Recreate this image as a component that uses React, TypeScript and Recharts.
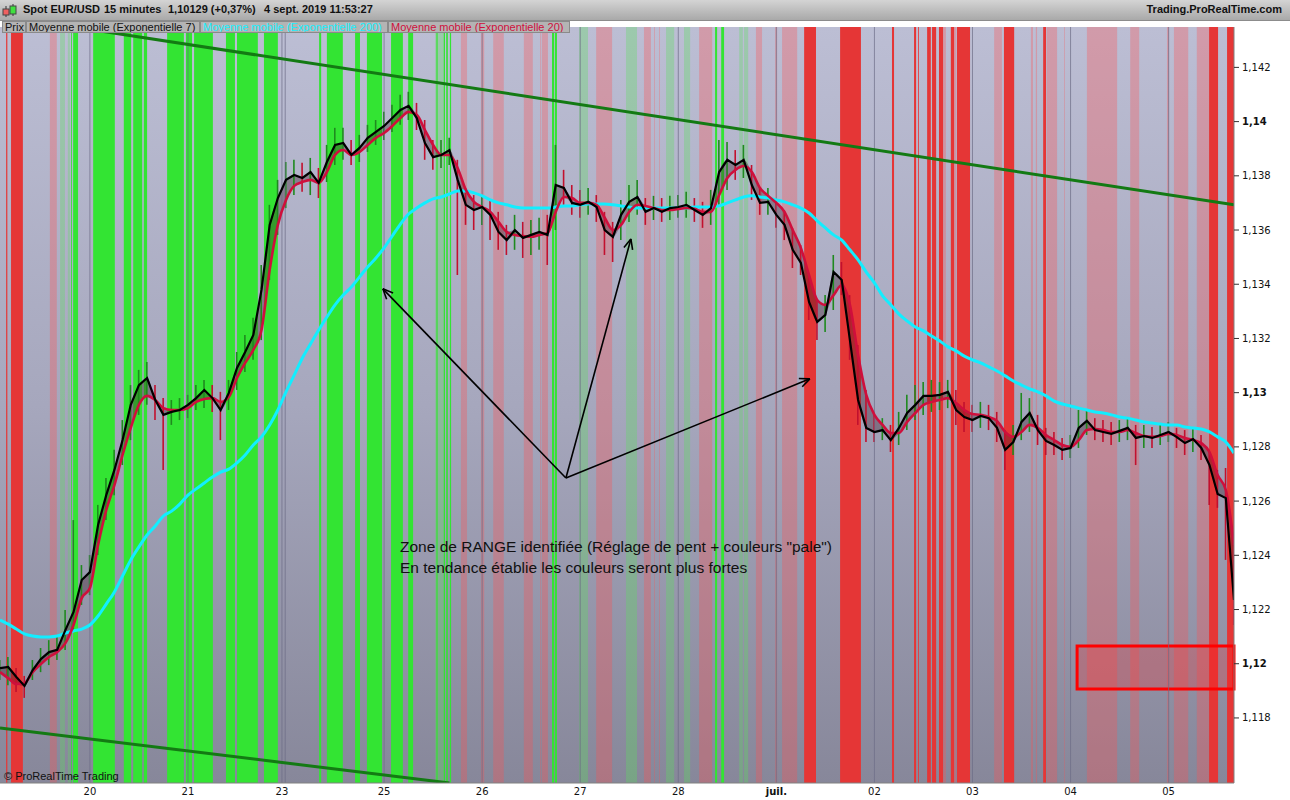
import React from 'react';
import { ComposedChart, Line, Bar, Area, Cell, XAxis, YAxis, ReferenceArea, ReferenceLine } from 'recharts';

// time axis: trading hours from the left edge of the chart (15-minute EUR/USD)
const hours = [0,2,4,6,8,10,12,14,16,18,20,22,24,26,28,30,32,34,36,38,40,42,44,46,48,50,52,54,56,58,60,62,64,66,68,70,72,74,76,78,80,82,84,86,88,90,92,94,96,98,100,102,104,106,108,110,112,114,116,118,120,122,124,126,128,130,132,134,136,138,140,142,144,146,148,150,152,154,156,158,160,162,164,166,168,170,172,174,176,178,180,182,184,186,188,190,192,194,196,198,200,202,204,206,208,210,212,214,216,218,220,222,224,226,228,230,232,234,236,238,240,242,244,246,248,250,252,254,256,258,260,262,264,266,268,270,272,274,276,278,280,282,284,286,288,290,292,294,296,298,300,302];

const ema7 = [1.11984,1.11988,1.11951,1.11918,1.11977,1.12017,1.12043,1.12051,1.12124,1.12191,1.12309,1.12338,1.12512,1.12622,1.12715,1.12825,1.12955,1.13028,1.13054,1.12973,1.12918,1.12929,1.12936,1.12955,1.12980,1.13010,1.12980,1.12936,1.12999,1.13091,1.13150,1.13213,1.13379,1.13619,1.13718,1.13785,1.13803,1.13792,1.13814,1.13774,1.13851,1.13914,1.13921,1.13877,1.13903,1.13940,1.13962,1.13984,1.14013,1.14043,1.14058,1.14013,1.13921,1.13869,1.13877,1.13895,1.13785,1.13693,1.13674,1.13685,1.13656,1.13593,1.13563,1.13600,1.13571,1.13582,1.13593,1.13582,1.13766,1.13755,1.13700,1.13693,1.13704,1.13685,1.13600,1.13575,1.13656,1.13704,1.13722,1.13667,1.13681,1.13667,1.13681,1.13685,1.13693,1.13674,1.13656,1.13681,1.13814,1.13859,1.13840,1.13859,1.13766,1.13700,1.13704,1.13656,1.13619,1.13527,1.13479,1.13335,1.13261,1.13287,1.13445,1.13416,1.13194,1.12973,1.12870,1.12855,1.12862,1.12825,1.12870,1.12925,1.12955,1.12988,1.12988,1.12992,1.13003,1.12936,1.12910,1.12899,1.12914,1.12906,1.12870,1.12789,1.12818,1.12892,1.12925,1.12862,1.12822,1.12807,1.12789,1.12796,1.12870,1.12896,1.12862,1.12855,1.12848,1.12859,1.12870,1.12833,1.12840,1.12833,1.12844,1.12855,1.12836,1.12814,1.12829,1.12796,1.12733,1.12626,1.12611,1.12235];

const ema20 = [1.11969,1.11947,1.11925,1.11929,1.11969,1.11999,1.12025,1.12043,1.12076,1.12143,1.12242,1.12279,1.12438,1.12567,1.12659,1.12770,1.12870,1.12955,1.12988,1.12973,1.12943,1.12936,1.12936,1.12943,1.12966,1.12977,1.12980,1.12966,1.12984,1.13054,1.13110,1.13158,1.13231,1.13453,1.13619,1.13711,1.13763,1.13777,1.13785,1.13774,1.13814,1.13877,1.13895,1.13877,1.13888,1.13914,1.13940,1.13958,1.13984,1.14013,1.14036,1.14025,1.13969,1.13914,1.13877,1.13877,1.13829,1.13748,1.13704,1.13685,1.13667,1.13630,1.13593,1.13582,1.13578,1.13575,1.13582,1.13589,1.13667,1.13722,1.13718,1.13700,1.13700,1.13693,1.13645,1.13600,1.13619,1.13667,1.13693,1.13689,1.13681,1.13674,1.13674,1.13678,1.13681,1.13678,1.13667,1.13667,1.13729,1.13792,1.13822,1.13836,1.13814,1.13755,1.13726,1.13700,1.13667,1.13600,1.13534,1.13434,1.13342,1.13324,1.13360,1.13397,1.13324,1.13139,1.12992,1.12918,1.12881,1.12851,1.12851,1.12892,1.12925,1.12955,1.12966,1.12973,1.12980,1.12962,1.12936,1.12921,1.12918,1.12910,1.12896,1.12855,1.12837,1.12855,1.12881,1.12870,1.12844,1.12825,1.12807,1.12800,1.12825,1.12862,1.12866,1.12862,1.12855,1.12855,1.12862,1.12851,1.12840,1.12837,1.12840,1.12848,1.12844,1.12833,1.12825,1.12814,1.12781,1.12696,1.12641,1.12438];

const ema200 = [1.12161,1.12146,1.12128,1.12110,1.12102,1.12099,1.12099,1.12102,1.12113,1.12121,1.12128,1.12143,1.12176,1.12220,1.12265,1.12324,1.12383,1.12431,1.12475,1.12508,1.12545,1.12563,1.12589,1.12622,1.12645,1.12667,1.12689,1.12707,1.12718,1.12741,1.12770,1.12807,1.12837,1.12881,1.12936,1.13003,1.13065,1.13128,1.13180,1.13231,1.13279,1.13324,1.13360,1.13390,1.13427,1.13464,1.13497,1.13534,1.13578,1.13622,1.13659,1.13681,1.13700,1.13715,1.13722,1.13733,1.13744,1.13744,1.13737,1.13726,1.13711,1.13700,1.13693,1.13685,1.13681,1.13681,1.13681,1.13681,1.13685,1.13689,1.13689,1.13693,1.13696,1.13696,1.13696,1.13693,1.13689,1.13685,1.13681,1.13681,1.13681,1.13681,1.13681,1.13681,1.13681,1.13685,1.13685,1.13685,1.13689,1.13700,1.13711,1.13722,1.13726,1.13722,1.13718,1.13711,1.13704,1.13693,1.13681,1.13663,1.13634,1.13608,1.13582,1.13563,1.13527,1.13490,1.13445,1.13405,1.13357,1.13324,1.13290,1.13265,1.13242,1.13228,1.13209,1.13191,1.13169,1.13154,1.13135,1.13121,1.13110,1.13095,1.13080,1.13062,1.13043,1.13028,1.13014,1.13003,1.12988,1.12969,1.12958,1.12951,1.12943,1.12936,1.12929,1.12925,1.12918,1.12910,1.12906,1.12899,1.12892,1.12888,1.12884,1.12881,1.12881,1.12873,1.12870,1.12866,1.12855,1.12837,1.12818,1.12777];

const highs = [1.12014,1.12025,1.11984,1.11955,1.12014,1.12058,1.12087,1.12106,1.12198,1.12530,1.12364,1.12401,1.12586,1.12685,1.12789,1.12899,1.13028,1.13084,1.13113,1.13028,1.12980,1.12973,1.12980,1.12992,1.13028,1.13047,1.13028,1.13003,1.13047,1.13150,1.13213,1.13276,1.13471,1.13693,1.13785,1.13851,1.13859,1.13848,1.13866,1.13829,1.13914,1.13977,1.13977,1.13932,1.13951,1.13988,1.14006,1.14036,1.14062,1.14099,1.14110,1.14069,1.14006,1.13932,1.13932,1.13940,1.13859,1.13755,1.13729,1.13729,1.13711,1.13667,1.13619,1.13656,1.13630,1.13637,1.13645,1.13656,1.13914,1.13822,1.13766,1.13748,1.13755,1.13729,1.13667,1.13630,1.13711,1.13766,1.13785,1.13718,1.13726,1.13718,1.13726,1.13729,1.13741,1.13718,1.13704,1.13748,1.13932,1.13925,1.13895,1.13914,1.13840,1.13755,1.13755,1.13711,1.13674,1.13608,1.13545,1.13434,1.13342,1.13360,1.13508,1.13482,1.13360,1.13176,1.13010,1.12918,1.12906,1.12881,1.12929,1.12992,1.13028,1.13039,1.13047,1.13039,1.13047,1.13010,1.12966,1.12955,1.12966,1.12955,1.12929,1.12862,1.12881,1.12999,1.12980,1.12918,1.12870,1.12855,1.12833,1.12844,1.12936,1.12936,1.12906,1.12899,1.12892,1.12899,1.12906,1.12881,1.12881,1.12873,1.12881,1.12892,1.12870,1.12862,1.12870,1.12844,1.12789,1.12715,1.12722,1.12456];

const lows = [1.11940,1.11921,1.11896,1.11874,1.11940,1.11969,1.11995,1.12014,1.12051,1.12117,1.12217,1.12253,1.12401,1.12530,1.12622,1.12733,1.12825,1.12918,1.12955,1.12899,1.12715,1.12881,1.12899,1.12906,1.12936,1.12943,1.12929,1.12825,1.12936,1.13010,1.13076,1.13121,1.13194,1.13416,1.13582,1.13681,1.13729,1.13741,1.13729,1.13718,1.13777,1.13840,1.13859,1.13840,1.13851,1.13888,1.13914,1.13932,1.13962,1.13988,1.14006,1.13969,1.13859,1.13822,1.13829,1.13840,1.13434,1.13619,1.13600,1.13619,1.13563,1.13527,1.13508,1.13527,1.13497,1.13508,1.13527,1.13471,1.13600,1.13693,1.13656,1.13645,1.13656,1.13630,1.13508,1.13482,1.13563,1.13630,1.13656,1.13619,1.13637,1.13630,1.13637,1.13645,1.13645,1.13630,1.13608,1.13619,1.13693,1.13748,1.13785,1.13792,1.13711,1.13656,1.13656,1.13608,1.13563,1.13460,1.13434,1.13268,1.13194,1.13224,1.13305,1.13360,1.13121,1.12881,1.12818,1.12818,1.12825,1.12781,1.12807,1.12862,1.12899,1.12918,1.12929,1.12936,1.12943,1.12881,1.12855,1.12855,1.12870,1.12862,1.12818,1.12715,1.12770,1.12825,1.12855,1.12807,1.12770,1.12770,1.12752,1.12759,1.12796,1.12844,1.12825,1.12818,1.12807,1.12818,1.12825,1.12733,1.12796,1.12796,1.12807,1.12818,1.12796,1.12770,1.12781,1.12752,1.12586,1.12575,1.12383,1.12143];

const dayTicks = [22, 46, 69, 94, 118, 142, 166, 190, 214, 238, 262, 286];
const dayLabels = ['20', '21', '23', '25', '26', '27', '28', 'juil.', '02', '03', '04', '05'];
const daySeparators = [22, 46, 69, 69.8, 94, 118, 142, 166, 190, 214, 238, 262, 286];
const priceTicks = [1.118, 1.12, 1.122, 1.124, 1.126, 1.128, 1.13, 1.132, 1.134, 1.136, 1.138, 1.14, 1.142];
const boldPrices = [1.12, 1.13, 1.14];

// regime bands: [start hour, end hour, kind]  R = strong bear, PR = range bear, G = strong bull, PG = range bull
type Kind = 'R' | 'PR' | 'G' | 'PG';
const bands: [number, number, Kind][] = [
  [1.5,1.8,'R'],[2.7,5.6,'R'],[12.2,13.9,'PR'],[14.7,15.9,'PG'],[16.6,17.1,'PG'],[17.4,17.6,'G'],[17.9,19.1,'G'],
  [22.8,28.1,'G'],[30.3,32.1,'G'],[32.6,34.8,'G'],[35.2,36.0,'G'],[40.9,45.0,'G'],[45.5,47.0,'G'],[47.5,52.1,'G'],
  [55.3,57.5,'G'],[58.0,63.1,'G'],[64.6,68.0,'G'],[78.1,78.6,'G'],[80.0,83.9,'G'],[86.9,88.1,'G'],[89.8,93.5,'G'],
  [95.7,98.6,'G'],[99.9,101.1,'G'],[106.5,108.9,'PG'],[106.8,107.1,'G'],[108.6,108.9,'G'],[109.2,109.6,'G'],[110.1,110.4,'G'],
  [112.8,114.3,'PR'],[117.7,118.5,'PR'],[120.7,123.3,'PR'],[128.2,130.4,'PR'],[132.2,132.4,'PR'],[132.6,134.1,'PR'],
  [135.1,135.6,'G'],[135.8,136.3,'G'],[141.7,143.9,'PG'],[145.9,149.8,'PR'],[153.2,155.9,'PG'],[157.6,159.3,'PR'],
  [160.1,160.3,'PR'],[161.3,161.5,'PR'],[163.0,165.0,'PG'],[167.4,168.9,'PG'],[171.1,174.3,'PR'],[175.0,175.5,'G'],
  [176.5,177.2,'G'],[180.9,181.8,'PG'],[182.1,183.1,'PG'],[185.0,186.5,'PR'],[189.7,190.2,'PR'],[191.4,195.1,'PR'],
  [196.8,199.7,'R'],[205.6,210.7,'R'],[218.3,218.8,'R'],[223.7,224.2,'R'],[224.7,224.9,'R'],[226.9,227.8,'R'],
  [228.1,229.1,'R'],[229.8,230.8,'R'],[230.8,231.5,'PR'],[232.7,233.5,'R'],[233.5,234.0,'PR'],[234.2,237.4,'R'],
  [243.3,245.2,'PR'],[245.7,248.2,'R'],[252.3,252.8,'PR'],[253.5,253.8,'PR'],[255.3,256.0,'R'],[256.2,258.7,'PR'],
  [260.4,260.6,'PR'],[266.0,273.4,'PR'],[276.6,278.8,'PR'],[285.6,286.1,'PR'],[287.3,290.8,'PR'],[292.9,295.9,'PR'],
  [295.9,298.1,'R'],[300.3,302,'R'],
];

const upperTrend = [{ t: 0, p: 1.14391 }, { t: 302, p: 1.13693 }];
const lowerTrend = [{ t: 0, p: 1.11763 }, { t: 110, p: 1.1156 }];
const arrowOrigin = { t: 138.5, p: 1.12685 };
const arrowTargets = [{ t: 93.7, p: 1.13383 }, { t: 154.4, p: 1.13567 }, { t: 198.2, p: 1.13051 }];
const targetBox = { t1: 263.6, t2: 302, p1: 1.11907, p2: 1.12065 };

const X_DOMAIN: [number, number] = [0, 302];
const Y_DOMAIN: [number, number] = [1.1156, 1.14349];

const bandStyle: Record<Kind, { fill: string; opacity: number }> = {
  R: { fill: '#e53636', opacity: 1 },
  PR: { fill: 'rgb(255,80,80)', opacity: 0.32 },
  G: { fill: '#33e433', opacity: 1 },
  PG: { fill: 'rgb(90,225,90)', opacity: 0.32 },
};

const rows = hours.map((t, i) => ({
  t,
  ema7: ema7[i],
  ema20: ema20[i],
  ema200: ema200[i],
  cloud: [Math.min(ema7[i], ema20[i]), Math.max(ema7[i], ema20[i])],
  wick: [lows[i], highs[i]],
  up: i === 0 ? true : ema7[i] >= ema7[i - 1],
}));

const PriceTick = (props: any) => {
  const { x, y, payload } = props;
  const v = payload.value as number;
  const bold = boldPrices.some((b) => Math.abs(b - v) < 1e-9);
  const label = (bold ? v.toFixed(2) : v.toFixed(3)).replace('.', ',');
  return (
    <text x={x} y={y} dy={3.5} textAnchor="start" fontFamily="DejaVu Sans" fontSize={10}
      fontWeight={bold ? 700 : 400} fill="#111">{label}</text>
  );
};

const DayTick = (props: any) => {
  const { x, payload, index } = props;
  const i = dayTicks.indexOf(payload.value);
  const label = dayLabels[i >= 0 ? i : index];
  return (
    <text x={x} y={794.5} textAnchor="middle" fontFamily="DejaVu Sans" fontSize={10}
      fontWeight={label === 'juil.' ? 700 : 400} fill="#111">{label}</text>
  );
};

const ArrowShape = (props: any) => {
  const { x1, y1, x2, y2 } = props;
  const ang = Math.atan2(y2 - y1, x2 - x1);
  const L = 11;
  const a1 = ang + Math.PI - 0.42;
  const a2 = ang + Math.PI + 0.42;
  return (
    <g>
      <line x1={x1} y1={y1} x2={x2} y2={y2} stroke="#000" strokeWidth={1.6} />
      <line x1={x2} y1={y2} x2={x2 + L * Math.cos(a1)} y2={y2 + L * Math.sin(a1)} stroke="#000" strokeWidth={1.6} />
      <line x1={x2} y1={y2} x2={x2 + L * Math.cos(a2)} y2={y2 + L * Math.sin(a2)} stroke="#000" strokeWidth={1.6} />
    </g>
  );
};

const legendBox: React.CSSProperties = {
  position: 'absolute', top: 21, height: 12, background: '#b4b4b4', border: '1px solid #8a8a8a',
  fontFamily: 'Liberation Sans, Arial, sans-serif', fontSize: 11, lineHeight: '11px', paddingLeft: 2,
  boxSizing: 'border-box', whiteSpace: 'nowrap', overflow: 'hidden',
};

export default function App() {
  return (
    <div style={{ position: 'fixed', left: 0, top: 0, width: 1290, height: 800, background: '#fff', overflow: 'hidden' }}>
      {/* plot background gradient */}
      <div style={{ position: 'absolute', left: 0, top: 27, width: 1234, height: 756,
        background: 'linear-gradient(to bottom, #bcbed4 0%, #a6a7bd 50%, #87879a 100%)' }} />
      <div style={{ position: 'absolute', left: 0, top: 0 }}>
        <ComposedChart width={1290} height={800} data={rows} margin={{ top: 27, right: 0, bottom: 0, left: 0 }}>
          <XAxis dataKey="t" type="number" domain={X_DOMAIN} ticks={dayTicks} allowDataOverflow
            height={17} tickLine={false} axisLine={{ stroke: '#808080' }} tick={<DayTick />} interval={0} />
          <YAxis orientation="right" type="number" domain={Y_DOMAIN} ticks={priceTicks} allowDataOverflow
            width={56} tickSize={5} tickMargin={3} tickLine={{ stroke: '#333' }} axisLine={{ stroke: '#808080' }}
            tick={<PriceTick />} interval={0} />
          {bands.map(([a, b, k], i) => (
            <ReferenceArea key={'b' + i} x1={a} x2={b} fill={bandStyle[k].fill} fillOpacity={bandStyle[k].opacity}
              stroke="none" ifOverflow="hidden" />
          ))}
          {daySeparators.map((d) => (
            <ReferenceLine key={'d' + d} x={d} stroke="#6c6c86" strokeOpacity={0.7} strokeWidth={1} />
          ))}
          <Area dataKey="cloud" type="monotone" fill="#3a1420" fillOpacity={0.35} stroke="none" isAnimationActive={false} />
          <Bar dataKey="wick" barSize={1.6} isAnimationActive={false}>
            {rows.map((r, i) => (
              <Cell key={i} fill={r.up ? '#1f8a1f' : '#c2102e'} />
            ))}
          </Bar>
          <Line dataKey="ema200" type="monotone" stroke="#12eeff" strokeWidth={3} dot={false} isAnimationActive={false} />
          <Line dataKey="ema20" type="monotone" stroke="#cf0f3c" strokeWidth={2.6} dot={false} isAnimationActive={false} />
          <Line dataKey="ema7" type="linear" stroke="#000" strokeWidth={2.2} dot={false} isAnimationActive={false} />
          <ReferenceLine segment={[{ x: upperTrend[0].t, y: upperTrend[0].p }, { x: upperTrend[1].t, y: upperTrend[1].p }]}
            stroke="#137a13" strokeWidth={3} ifOverflow="hidden" />
          <ReferenceLine segment={[{ x: lowerTrend[0].t, y: lowerTrend[0].p }, { x: lowerTrend[1].t, y: lowerTrend[1].p }]}
            stroke="#137a13" strokeWidth={3} ifOverflow="hidden" />
          {arrowTargets.map((a, i) => (
            <ReferenceLine key={'a' + i} segment={[{ x: arrowOrigin.t, y: arrowOrigin.p }, { x: a.t, y: a.p }]}
              ifOverflow="visible" shape={<ArrowShape />} />
          ))}
          <ReferenceArea x1={targetBox.t1} x2={targetBox.t2} y1={targetBox.p1} y2={targetBox.p2}
            fill="#ff2020" fillOpacity={0.25} stroke="#ff0000" strokeWidth={3} ifOverflow="visible" />
        </ComposedChart>
      </div>

      {/* header bar */}
      <div style={{ position: 'absolute', left: 0, top: 0, width: 1290, height: 21,
        background: 'linear-gradient(to bottom, #d4d4d4, #a9a9a9)', borderBottom: '1px solid #8c8c8c', boxSizing: 'border-box' }} />
      <svg style={{ position: 'absolute', left: 2, top: 4 }} width={16} height={14}>
        <line x1={4} y1={2} x2={4} y2={13} stroke="#333" />
        <rect x={1} y={5} width={6} height={6} fill="#f06060" stroke="#444" />
        <line x1={11} y1={0} x2={11} y2={12} stroke="#333" />
        <rect x={8} y={2} width={6} height={8} fill="#40e040" stroke="#444" />
      </svg>
      {[['Spot EUR/USD', 23], ['15 minutes', 104], ['1,10129 (+0,37%)', 168], ['4 sept. 2019 11:53:27', 264]].map(([s, x]) => (
        <div key={s as string} style={{ position: 'absolute', left: x as number, top: 3, fontFamily: 'Liberation Sans, Arial, sans-serif',
          fontWeight: 700, fontSize: 11, color: '#111', whiteSpace: 'nowrap' }}>{s}</div>
      ))}
      <div style={{ position: 'absolute', right: 8, top: 3, fontFamily: 'Liberation Sans, Arial, sans-serif',
        fontWeight: 700, fontSize: 11, color: '#111', whiteSpace: 'nowrap' }}>Trading.ProRealTime.com</div>

      {/* legend row */}
      <div style={{ ...legendBox, left: 2, width: 24, color: '#111' }}>Prix</div>
      <div style={{ ...legendBox, left: 26, width: 174, color: '#111' }}>Moyenne mobile (Exponentielle 7)</div>
      <div style={{ ...legendBox, left: 200, width: 188, color: '#17f0ff' }}>Moyenne mobile (Exponentielle 200)</div>
      <div style={{ ...legendBox, left: 388, width: 182, color: '#d0103c' }}>Moyenne mobile (Exponentielle 20)</div>

      {/* annotation */}
      <div style={{ position: 'absolute', left: 400, top: 536, fontFamily: 'Liberation Sans, Arial, sans-serif',
        fontSize: 15.5, lineHeight: '21px', color: '#111', whiteSpace: 'nowrap' }}>
        <div>Zone de RANGE identifiée (Réglage de pent + couleurs "pale")</div>
        <div>En tendance établie les couleurs seront plus fortes</div>
      </div>

      <div style={{ position: 'absolute', left: 4, top: 770, fontFamily: 'Liberation Sans, Arial, sans-serif',
        fontSize: 11, color: '#111', whiteSpace: 'nowrap' }}>© ProRealTime Trading</div>
    </div>
  );
}
